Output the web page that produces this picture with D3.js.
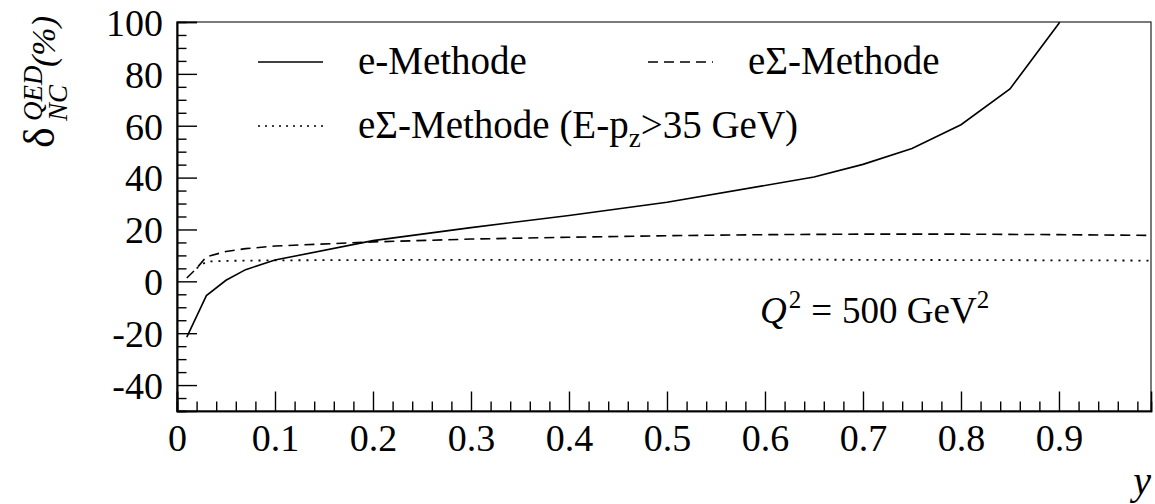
<!DOCTYPE html>
<html><head><meta charset="utf-8">
<script src="https://cdn.jsdelivr.net/npm/d3@7"></script>
<style>body{margin:0;background:#fff}svg{display:block}</style>
</head><body>
<svg id="chart" width="1155" height="504"></svg>
<script>
// ---- data ----
const eX      = [0.01, 0.03, 0.05, 0.07, 0.1, 0.2, 0.3, 0.4, 0.5, 0.65, 0.7, 0.75, 0.8, 0.85, 0.9, 0.95];
const eVal    = [-21.5, -5.5, 0.4, 4.5, 8.2, 15.7, 20.7, 25.4, 30.5, 40.2, 45.1, 51.2, 60.4, 74.2, 99.5, 150];
const eSigX   = [0.01, 0.02, 0.03, 0.05, 0.07, 0.1, 0.2, 0.3, 0.4, 0.5, 0.6, 0.7, 0.8, 0.9, 1.0];
const eSigVal = [1.3, 5.0, 9.5, 11.5, 12.6, 13.6, 15.2, 16.3, 17.0, 17.6, 18.0, 18.2, 18.2, 18.0, 17.7];
const eSigCutX   = [0.02, 0.03, 0.05, 0.1, 0.2, 0.3, 0.4, 0.5, 0.6, 0.7, 0.8, 0.9, 1.0];
const eSigCutVal = [5.0, 7.6, 7.9, 8.1, 8.2, 8.3, 8.3, 8.3, 8.4, 8.3, 8.2, 8.1, 8.0];

const seriesNames = ["e-Methode", "eΣ-Methode", "eΣ-Methode (E-p", "z", ">35 GeV)"];
const xMajorTicks = [0, 0.1, 0.2, 0.3, 0.4, 0.5, 0.6, 0.7, 0.8, 0.9];
const xTickLabels = ["0", "0.1", "0.2", "0.3", "0.4", "0.5", "0.6", "0.7", "0.8", "0.9"];
const yMajorTicks = [-40, -20, 0, 20, 40, 60, 80, 100];
const yTickLabels = ["-40", "-20", "0", "20", "40", "60", "80", "100"];

// ---- layout ----
const svg = d3.select("#chart");
const L = 177, R = 1151, T = 22, B = 411;
const x = d3.scaleLinear().domain([0, 0.9939]).range([L, R]);
const y = d3.scaleLinear().domain([-50, 100]).range([B, T]);
const FONT = "Liberation Serif, serif";

svg.append("defs").append("clipPath").attr("id", "plotclip")
  .append("rect").attr("x", L).attr("y", T).attr("width", R - L).attr("height", B - T);

// frame
svg.append("rect").attr("x", L).attr("y", T).attr("width", R - L).attr("height", B - T)
  .attr("fill", "none").attr("stroke", "#222").attr("stroke-width", 1.2);

// minor ticks
const xMinor = d3.range(0, 0.99, 0.02).filter(v => !xMajorTicks.some(m => Math.abs(m - v) < 1e-6));
const yMinor = d3.range(-50, 100, 5).filter(v => !yMajorTicks.includes(v));

const gxMinor = svg.append("g").attr("transform", `translate(0,${B})`)
  .call(d3.axisBottom(x).tickValues(xMinor).tickSize(-9.5).tickFormat(""));
const gyMinor = svg.append("g").attr("transform", `translate(${L},0)`)
  .call(d3.axisLeft(y).tickValues(yMinor).tickSize(-9.5).tickFormat(""));

const gx = svg.append("g").attr("transform", `translate(0,${B})`)
  .call(d3.axisBottom(x).tickValues(xMajorTicks).tickSize(-19.5)
    .tickFormat((d, i) => xTickLabels[i]));
const gy = svg.append("g").attr("transform", `translate(${L},0)`)
  .call(d3.axisLeft(y).tickValues(yMajorTicks).tickSize(-20)
    .tickFormat((d, i) => yTickLabels[i]));

[gxMinor, gyMinor, gx, gy].forEach(g => {
  g.select(".domain").attr("stroke", "#000").attr("stroke-width", 1.6);
  g.selectAll(".tick line").attr("stroke", "#000").attr("stroke-width", 1.4);
});
gx.selectAll(".tick text").attr("y", 40).attr("dy", 0)
  .attr("font-family", FONT).attr("font-size", 38).attr("fill", "#000");
gy.selectAll(".tick text").attr("x", -14).attr("dy", "0.35em")
  .attr("font-family", FONT).attr("font-size", 38).attr("fill", "#000");

// curves
const line = d3.line().x(d => x(d[0])).y(d => y(d[1]));
const plot = svg.append("g").attr("clip-path", "url(#plotclip)");
plot.append("path").datum(eX.map((v, i) => [v, eVal[i]]))
  .attr("d", line).attr("fill", "none").attr("stroke", "#000").attr("stroke-width", 1.6);
plot.append("path").datum(eSigX.map((v, i) => [v, eSigVal[i]]))
  .attr("d", line).attr("fill", "none").attr("stroke", "#000").attr("stroke-width", 1.6)
  .attr("stroke-dasharray", "10,6");
plot.append("path").datum(eSigCutX.map((v, i) => [v, eSigCutVal[i]]))
  .attr("d", line).attr("fill", "none").attr("stroke", "#000").attr("stroke-width", 1.8)
  .attr("stroke-dasharray", "2,6");

// legend
const leg = svg.append("g").attr("font-family", FONT).attr("font-size", 39).attr("fill", "#000");
const legRows = [
  {x1: 258, x2: 323, ly: 62, dash: null},
  {x1: 648, x2: 713, ly: 62, dash: "10,6"},
  {x1: 258, x2: 323, ly: 126, dash: "2,5"}
];
legRows.forEach(r => {
  leg.append("line").attr("x1", r.x1).attr("x2", r.x2).attr("y1", r.ly).attr("y2", r.ly)
    .attr("stroke", "#000").attr("stroke-width", 1.6).attr("stroke-dasharray", r.dash);
});
leg.append("text").attr("x", 358).attr("y", 74).text(seriesNames[0]);
leg.append("text").attr("x", 748).attr("y", 74).text(seriesNames[1]);
const t3 = leg.append("text").attr("x", 358).attr("y", 138);
t3.append("tspan").text(seriesNames[2]);
t3.append("tspan").attr("font-size", 27).attr("dy", 9).text(seriesNames[3]);
t3.append("tspan").attr("dy", -9).text(seriesNames[4]);

// Q^2 annotation
const q = svg.append("text").attr("x", 760).attr("y", 323)
  .attr("font-family", FONT).attr("font-size", 37).attr("fill", "#000");
q.append("tspan").attr("font-style", "italic").text("Q");
q.append("tspan").attr("font-size", 25).attr("dy", -15).attr("dx", 2).text("2");
q.append("tspan").attr("dy", 15).attr("dx", 10).text("=");
q.append("tspan").attr("dx", 10).text("500 GeV");
q.append("tspan").attr("font-size", 25).attr("dy", -15).text("2");

// x axis title
svg.append("text").attr("x", 1151).attr("y", 494).attr("text-anchor", "end")
  .attr("font-family", FONT).attr("font-size", 40).attr("font-style", "italic").text("y");

// y axis title (rotated)
const yt = svg.append("g").attr("transform", "translate(54,148) rotate(-90)")
  .attr("font-family", FONT).attr("fill", "#000");
yt.append("text").attr("x", 0).attr("y", 0).attr("font-size", 44).text("δ");
yt.append("text").attr("x", 27).attr("y", 13).attr("font-size", 27).attr("font-style", "italic").text("NC");
yt.append("text").attr("x", 27).attr("y", -12).attr("font-size", 27).attr("font-style", "italic").text("QED");
yt.append("text").attr("x", 81).attr("y", 1).attr("font-size", 34).attr("font-style", "italic").text("(%)");
</script>
</body></html>
